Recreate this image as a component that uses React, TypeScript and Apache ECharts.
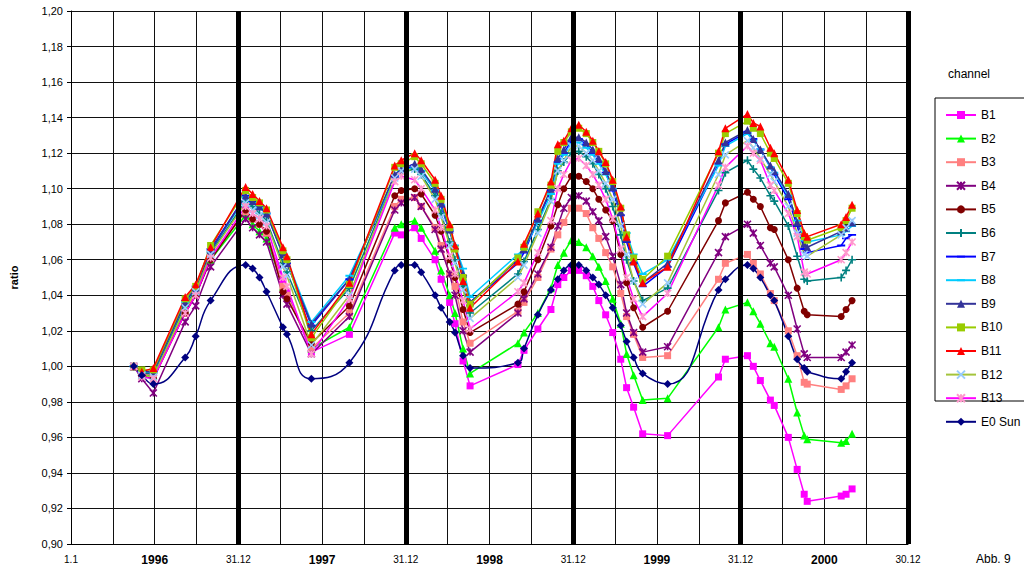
import React, { useEffect, useRef } from "react";
import * as echarts from "echarts";

const dates = [1996.375, 1996.423, 1996.492, 1996.682, 1996.745, 1996.834, 1997.043, 1997.085, 1997.126, 1997.168, 1997.266, 1997.290, 1997.436, 1997.663, 1997.934, 1997.973, 1998.053, 1998.092, 1998.175, 1998.211, 1998.262, 1998.294, 1998.342, 1998.384, 1998.670, 1998.706, 1998.789, 1998.867, 1998.908, 1998.944, 1998.989, 1999.033, 1999.078, 1999.117, 1999.153, 1999.194, 1999.236, 1999.284, 1999.319, 1999.361, 1999.415, 1999.564, 1999.868, 1999.909, 2000.041, 2000.076, 2000.118, 2000.178, 2000.201, 2000.285, 2000.338, 2000.380, 2000.398, 2000.601, 2000.630, 2000.666];

const B1 = [1.000, 0.995, 0.995, 1.030, 1.040, 1.060, 1.088, 1.083, 1.080, 1.075, 1.048, 1.042, 1.008, 1.018,
  1.075, 1.074, 1.078, 1.072, 1.060, 1.049, 1.036, 1.024, 1.003, 0.989,
  1.001, 1.009, 1.021, 1.032, 1.046, 1.050, 1.054, 1.054, 1.051, 1.045, 1.037, 1.029, 1.019, 1.004, 0.988, 0.977, 0.962, 0.961,
  0.994, 1.004, 1.006, 1.000, 0.992, 0.981, 0.978, 0.960, 0.942, 0.928, 0.924, 0.927, 0.928, 0.931];
const B2 = [1.000, 0.995, 0.995, 1.032, 1.042, 1.060, 1.085, 1.080, 1.076, 1.072, 1.045, 1.040, 1.010, 1.022,
  1.078, 1.080, 1.082, 1.078, 1.065, 1.054, 1.040, 1.030, 1.010, 0.996,
  1.013, 1.019, 1.030, 1.044, 1.057, 1.064, 1.071, 1.070, 1.067, 1.062, 1.056, 1.048, 1.038, 1.024, 1.007, 0.995, 0.981, 0.982,
  1.022, 1.032, 1.036, 1.031, 1.024, 1.013, 1.011, 0.993, 0.974, 0.961, 0.959, 0.957, 0.958, 0.962];
const B3 = [1.000, 0.995, 0.996, 1.030, 1.042, 1.062, 1.087, 1.083, 1.080, 1.075, 1.045, 1.040, 1.010, 1.030,
  1.090, 1.094, 1.095, 1.090, 1.078, 1.068, 1.052, 1.045, 1.025, 1.013,
  1.031, 1.036, 1.050, 1.066, 1.074, 1.081, 1.089, 1.089, 1.086, 1.078, 1.072, 1.064, 1.056, 1.041, 1.028, 1.018, 1.005, 1.006,
  1.049, 1.058, 1.063, 1.058, 1.052, 1.041, 1.037, 1.020, 1.006, 0.991, 0.990, 0.987, 0.989, 0.993];
const B4 = [1.000, 0.993, 0.985, 1.025, 1.034, 1.056, 1.083, 1.078, 1.074, 1.070, 1.040, 1.035, 1.007, 1.028,
  1.088, 1.092, 1.095, 1.090, 1.077, 1.066, 1.052, 1.040, 1.020, 1.008,
  1.030, 1.038, 1.052, 1.067, 1.079, 1.089, 1.095, 1.096, 1.093, 1.087, 1.082, 1.073, 1.062, 1.046, 1.030, 1.019, 1.008, 1.011,
  1.064, 1.073, 1.080, 1.075, 1.068, 1.058, 1.056, 1.040, 1.021, 1.007, 1.005, 1.005, 1.008, 1.012];
const B5 = [1.000, 0.995, 0.993, 1.030, 1.040, 1.060, 1.088, 1.083, 1.080, 1.076, 1.042, 1.038, 1.013, 1.034,
  1.096, 1.099, 1.100, 1.097, 1.085, 1.076, 1.060, 1.050, 1.032, 1.019,
  1.035, 1.042, 1.060, 1.079, 1.091, 1.100, 1.107, 1.107, 1.104, 1.100, 1.094, 1.088, 1.082, 1.063, 1.047, 1.033, 1.022, 1.031,
  1.082, 1.092, 1.098, 1.094, 1.090, 1.078, 1.077, 1.060, 1.044, 1.031, 1.029, 1.028, 1.032, 1.037];
const B6 = [1.000, 0.996, 0.996, 1.034, 1.043, 1.064, 1.093, 1.090, 1.086, 1.082, 1.058, 1.053, 1.020, 1.044,
  1.106, 1.109, 1.111, 1.108, 1.096, 1.086, 1.070, 1.060, 1.045, 1.030,
  1.052, 1.059, 1.077, 1.094, 1.110, 1.115, 1.120, 1.121, 1.118, 1.114, 1.108, 1.100, 1.090, 1.074, 1.060, 1.048, 1.037, 1.044,
  1.099, 1.109, 1.116, 1.111, 1.106, 1.096, 1.093, 1.079, 1.062, 1.049, 1.048, 1.050, 1.054, 1.060];
const B7 = [1.000, 0.997, 0.997, 1.037, 1.045, 1.066, 1.096, 1.093, 1.090, 1.086, 1.063, 1.058, 1.023, 1.049,
  1.107, 1.110, 1.113, 1.110, 1.099, 1.090, 1.076, 1.066, 1.051, 1.036,
  1.058, 1.064, 1.082, 1.099, 1.115, 1.120, 1.127, 1.128, 1.125, 1.120, 1.115, 1.109, 1.099, 1.085, 1.070, 1.058, 1.045, 1.056,
  1.114, 1.125, 1.132, 1.128, 1.122, 1.112, 1.108, 1.094, 1.079, 1.066, 1.064, 1.068, 1.072, 1.074];
const B8 = [1.000, 0.997, 0.997, 1.036, 1.044, 1.065, 1.095, 1.092, 1.089, 1.086, 1.064, 1.060, 1.025, 1.051,
  1.106, 1.110, 1.112, 1.110, 1.099, 1.091, 1.077, 1.068, 1.055, 1.039,
  1.063, 1.066, 1.081, 1.097, 1.114, 1.119, 1.125, 1.126, 1.123, 1.119, 1.114, 1.108, 1.100, 1.088, 1.075, 1.063, 1.052, 1.060,
  1.113, 1.124, 1.131, 1.127, 1.122, 1.112, 1.109, 1.096, 1.082, 1.071, 1.070, 1.074, 1.076, 1.079];
const B9 = [1.000, 0.997, 0.997, 1.036, 1.044, 1.065, 1.096, 1.093, 1.090, 1.086, 1.063, 1.058, 1.024, 1.049,
  1.108, 1.111, 1.114, 1.111, 1.100, 1.092, 1.077, 1.068, 1.052, 1.036,
  1.060, 1.066, 1.083, 1.100, 1.117, 1.122, 1.129, 1.129, 1.126, 1.122, 1.117, 1.110, 1.101, 1.087, 1.072, 1.060, 1.047, 1.058,
  1.116, 1.126, 1.133, 1.128, 1.122, 1.113, 1.110, 1.097, 1.081, 1.069, 1.067, 1.076, 1.078, 1.081];
const B10 = [1.000, 0.998, 0.998, 1.038, 1.045, 1.068, 1.099, 1.095, 1.092, 1.088, 1.065, 1.060, 1.016, 1.046,
  1.112, 1.114, 1.118, 1.114, 1.103, 1.094, 1.078, 1.066, 1.050, 1.035,
  1.061, 1.067, 1.087, 1.102, 1.121, 1.126, 1.132, 1.134, 1.131, 1.126, 1.121, 1.114, 1.104, 1.089, 1.074, 1.061, 1.049, 1.062,
  1.120, 1.131, 1.138, 1.134, 1.131, 1.120, 1.117, 1.103, 1.086, 1.073, 1.071, 1.078, 1.082, 1.089];
const B11 = [1.000, 0.997, 0.999, 1.039, 1.046, 1.067, 1.101, 1.097, 1.093, 1.089, 1.067, 1.062, 1.018, 1.047,
  1.113, 1.116, 1.120, 1.116, 1.105, 1.096, 1.080, 1.068, 1.048, 1.033,
  1.059, 1.069, 1.086, 1.104, 1.125, 1.127, 1.134, 1.136, 1.132, 1.127, 1.121, 1.115, 1.105, 1.090, 1.073, 1.059, 1.047, 1.056,
  1.121, 1.134, 1.142, 1.137, 1.135, 1.123, 1.120, 1.105, 1.088, 1.075, 1.073, 1.080, 1.084, 1.091];
const B12 = [1.000, 0.995, 0.994, 1.033, 1.042, 1.063, 1.092, 1.088, 1.085, 1.081, 1.056, 1.051, 1.012, 1.040,
  1.106, 1.110, 1.111, 1.107, 1.094, 1.084, 1.068, 1.058, 1.043, 1.027,
  1.050, 1.057, 1.075, 1.093, 1.110, 1.116, 1.124, 1.124, 1.120, 1.116, 1.110, 1.103, 1.094, 1.079, 1.063, 1.048, 1.035, 1.047,
  1.108, 1.119, 1.127, 1.123, 1.117, 1.108, 1.104, 1.090, 1.075, 1.063, 1.062, 1.074, 1.078, 1.082];
const B13 = [1.000, 0.994, 0.993, 1.030, 1.040, 1.061, 1.090, 1.086, 1.083, 1.079, 1.050, 1.045, 1.007, 1.038,
  1.104, 1.107, 1.105, 1.100, 1.088, 1.078, 1.062, 1.052, 1.037, 1.021,
  1.042, 1.047, 1.064, 1.082, 1.100, 1.108, 1.116, 1.117, 1.113, 1.108, 1.102, 1.094, 1.083, 1.066, 1.050, 1.038, 1.028, 1.041,
  1.102, 1.112, 1.124, 1.120, 1.116, 1.102, 1.099, 1.086, 1.073, 1.053, 1.052, 1.060, 1.064, 1.070];
const E0 = [1.000, 0.995, 0.990, 1.005, 1.017, 1.037, 1.057, 1.055, 1.050, 1.042, 1.022, 1.018, 0.993, 1.002,
  1.054, 1.057, 1.057, 1.053, 1.040, 1.033, 1.025, 1.019, 1.006, 0.999,
  1.002, 1.010, 1.029, 1.043, 1.049, 1.054, 1.057, 1.057, 1.054, 1.050, 1.046, 1.040, 1.033, 1.023, 1.014, 1.005, 0.996, 0.990,
  1.043, 1.049, 1.057, 1.055, 1.050, 1.040, 1.037, 1.017, 1.004, 0.999, 0.997, 0.993, 0.997, 1.002];

const xTickLabels: Record<string, string> = {
  "1996": "1.1", "1996.5": "{b|1996}", "1997": "31.12", "1997.5": "{b|1997}",
  "1998": "31.12", "1998.5": "{b|1998}", "1999": "31.12", "1999.5": "{b|1999}",
  "2000": "31.12", "2000.5": "{b|2000}", "2001": "30.12",
};
const yearEnds = [1997, 1998, 1999, 2000, 2001];

const STAR = "path://M0 0L10 10M10 0L0 10M5 0L5 10";
const PLUS = "path://M5 0L5 10M0 5L10 5";
const CROSS = "path://M0 0L10 10M10 0L0 10";
const DASH = "path://M0 0L0.01 0M10 10L9.99 10M0 3.8L10 3.8L10 6.2L0 6.2Z";

type Def = { name: string; values: number[]; line: string; marker: string; symbol: string; size: number; stroke?: boolean; smooth?: boolean };
const defs: Def[] = [
  { name: "B1", values: B1, line: "#FF00FF", marker: "#FF00FF", symbol: "rect", size: 7 },
  { name: "B2", values: B2, line: "#00FF00", marker: "#00FF00", symbol: "triangle", size: 8 },
  { name: "B3", values: B3, line: "#FF8080", marker: "#FF8080", symbol: "rect", size: 7 },
  { name: "B4", values: B4, line: "#800080", marker: "#800080", symbol: STAR, size: 7, stroke: true },
  { name: "B5", values: B5, line: "#800000", marker: "#800000", symbol: "circle", size: 7 },
  { name: "B6", values: B6, line: "#008080", marker: "#008080", symbol: PLUS, size: 8, stroke: true },
  { name: "B7", values: B7, line: "#0000FF", marker: "#0000FF", symbol: DASH, size: 8 },
  { name: "B8", values: B8, line: "#00CCFF", marker: "#00CCFF", symbol: DASH, size: 8 },
  { name: "B9", values: B9, line: "#333399", marker: "#333399", symbol: "triangle", size: 8 },
  { name: "B10", values: B10, line: "#99CC00", marker: "#99CC00", symbol: "rect", size: 7 },
  { name: "B11", values: B11, line: "#FF0000", marker: "#FF0000", symbol: "triangle", size: 8 },
  { name: "B12", values: B12, line: "#A4C43C", marker: "#99CCFF", symbol: CROSS, size: 7, stroke: true },
  { name: "B13", values: B13, line: "#FF00FF", marker: "#FF99CC", symbol: STAR, size: 7, stroke: true },
  { name: "E0 Sun", values: E0, line: "#000080", marker: "#000080", symbol: "diamond", size: 8, smooth: true },
];

const FONT = "Liberation Sans, Arial, sans-serif";

export default function App() {
  const ref = useRef<HTMLDivElement>(null);
  useEffect(() => {
    if (!ref.current) return;
    const chart = echarts.init(ref.current, undefined, { renderer: "svg" });
    const series: any[] = [
      {
        type: "line",
        name: "_years",
        data: [],
        silent: true,
        z: 1,
        markLine: {
          silent: true,
          symbol: ["none", "none"],
          label: { show: false },
          lineStyle: { color: "#000", width: 5, type: "solid" },
          data: yearEnds.map((v) => ({ xAxis: v })),
        },
      },
    ];
    defs.forEach((d) => {
      series.push({
        type: "line",
        name: d.name,
        data: dates.map((t, i) => [t, d.values[i]]),
        symbol: d.symbol,
        symbolSize: d.size,
        smooth: d.smooth ? 0.5 : false,
        z: 3,
        lineStyle: { color: d.line, width: 1.5 },
        itemStyle: {
          color: d.marker,
          borderColor: d.marker,
          borderWidth: d.stroke ? 1.6 : 0,
        },
      });
    });
    chart.setOption({
      animation: false,
      textStyle: { fontFamily: FONT },
      grid: { left: 69, right: 116, top: 11, bottom: 25 },
      xAxis: {
        type: "value",
        min: 1996,
        max: 2001,
        interval: 0.25,
        axisLine: { show: true, lineStyle: { color: "#000", width: 1 } },
        axisTick: { show: false },
        splitLine: { show: true, lineStyle: { color: "#111", width: 1 } },
        axisLabel: {
          show: true,
          showMinLabel: true,
          showMaxLabel: true,
          margin: 10,
          fontSize: 10,
          color: "#000",
          fontFamily: FONT,
          formatter: (v: number) => {
            const key = String(Math.round(v * 4) / 4);
            return xTickLabels[key] ?? "";
          },
          rich: { b: { fontWeight: "bold", fontSize: 12, color: "#000", fontFamily: FONT } },
        },
      },
      yAxis: {
        type: "value",
        min: 0.9,
        max: 1.2,
        interval: 0.02,
        name: "ratio",
        nameLocation: "middle",
        nameGap: 52,
        nameRotate: 90,
        nameTextStyle: { fontWeight: "bold", fontSize: 11, color: "#000", fontFamily: FONT },
        axisLine: { show: true, lineStyle: { color: "#000", width: 1 } },
        axisTick: { show: true, length: 4, lineStyle: { color: "#000" } },
        splitLine: { show: true, lineStyle: { color: "#111", width: 1 } },
        axisLabel: {
          fontSize: 11,
          color: "#000",
          margin: 8,
          fontFamily: FONT,
          formatter: (v: number) => v.toFixed(2).replace(".", ","),
        },
      },
      legend: {
        orient: "vertical",
        left: 940,
        top: 104,
        itemWidth: 30,
        itemHeight: 10,
        itemGap: 11.6,
        data: defs.map((d) => d.name),
        textStyle: { fontSize: 12, color: "#000", fontFamily: FONT },
        selectedMode: false,
      },
      graphic: [
        { type: "rect", shape: { x: 935, y: 98, width: 100, height: 303 }, style: { fill: "none", stroke: "#000", lineWidth: 1 }, silent: true },
        { type: "text", left: 948, top: 68, style: { text: "channel", fontSize: 12, fill: "#000", fontFamily: FONT } },
        { type: "text", left: 976, top: 553, style: { text: "Abb. 9", fontSize: 12, fill: "#000", fontFamily: FONT } },
      ],
      series,
    });
    return () => chart.dispose();
  }, []);
  return <div ref={ref} style={{ width: 1024, height: 569, position: "absolute", left: 0, top: 0 }} />;
}
